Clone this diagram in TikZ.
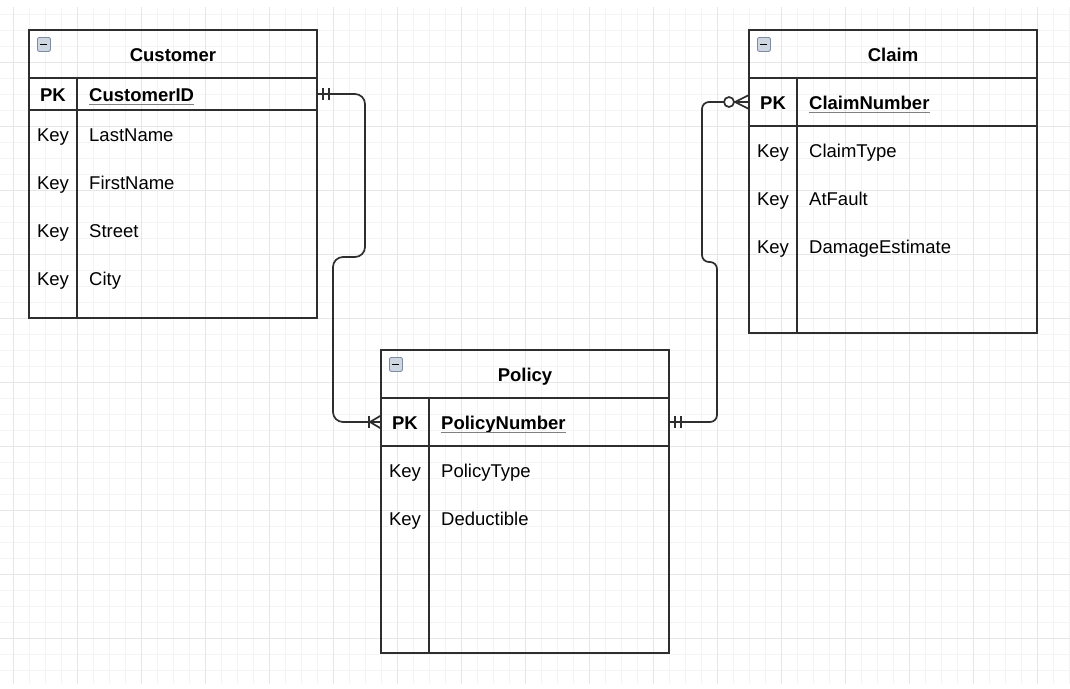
\documentclass[tikz,border=0pt]{standalone}
\usepackage{fontspec}
\setmainfont{Liberation Sans}
\usepackage{xcolor}

\definecolor{gridMinor}{HTML}{F4F4F4}
\definecolor{gridMajor}{HTML}{E6E6E6}
\definecolor{lineDark}{HTML}{2E2E2E}
\definecolor{iconFill}{HTML}{CDD6E1}
\definecolor{iconEdge}{HTML}{7D8CA0}

\begin{document}
\fontsize{18.5}{22}\selectfont
\begin{tikzpicture}[x=1pt,y=-1pt,
  tabhead/.style={draw=lineDark, line width=1.8pt, minimum width=288pt, minimum height=48pt, inner sep=0pt, outer sep=0pt, text height=15pt, text depth=0pt, font=\bfseries, anchor=north west},
  tabrow/.style={draw=lineDark, line width=1.8pt, minimum width=288pt, inner sep=0pt, outer sep=0pt, anchor=north west},
  keytxt/.style={inner sep=0pt, text height=15pt, text depth=0pt},
  fieldtxt/.style={anchor=west, inner sep=0pt, text height=15pt, text depth=0pt},
  minbox/.style={draw=iconEdge, fill=iconFill, line width=0.9pt, rounded corners=2pt, minimum width=13pt, minimum height=14pt, inner sep=0pt, anchor=north west},
  relline/.style={draw=lineDark, line width=1.7pt},
  uline/.style={draw=gray, line width=1.3pt}]

\useasboundingbox (0,0) rectangle (1070,688);
\fill[white] (0,0) rectangle (1070,688);

%Raster
\foreach \gx in {13,29,...,1069} \draw[gridMinor, line width=1pt] (\gx,7) -- (\gx,684);
\foreach \gy in {14,30,...,670} \draw[gridMinor, line width=1pt] (0,\gy) -- (1070,\gy);
\foreach \gx in {13,77,...,1037} \draw[gridMajor, line width=1pt] (\gx,7) -- (\gx,684);
\foreach \gy in {62,126,...,638} \draw[gridMajor, line width=1pt] (0,\gy) -- (1070,\gy);

%Customer
\node[tabhead] (cust) at (29,30) {Customer};
\node[tabrow, minimum height=32pt] (custPK) at (cust.south west) {};
\node[tabrow, minimum height=208pt] (custBody) at (custPK.south west) {};
\draw[relline, line width=1.8pt] ([xshift=48pt]custPK.north west) -- ([xshift=48pt]custBody.south west);
\node[minbox] (custMin) at ([xshift=8pt,yshift=-7pt]cust.north west) {\rule{7pt}{1.8pt}};
\node[keytxt, font=\bfseries] (custPKkey) at ([xshift=24pt]custPK.west) {PK};
\node[fieldtxt, font=\bfseries] (custPKname) at ([xshift=60pt]custPK.west) {CustomerID};
\draw[uline] ([yshift=-2.5pt]custPKname.south west) -- ([yshift=-2.5pt]custPKname.south east);
\foreach \fname [count=\i] in {LastName,FirstName,Street,City}{
  \node[keytxt] (custKey\i) at ([xshift=24pt,yshift={-48pt*\i+24pt}]custBody.north west) {Key};
  \node[fieldtxt] (custField\i) at ([xshift=60pt,yshift={-48pt*\i+24pt}]custBody.north west) {\fname};
}

%Claim
\node[tabhead] (claim) at (749,30) {Claim};
\node[tabrow, minimum height=48pt] (claimPK) at (claim.south west) {};
\node[tabrow, minimum height=207pt] (claimBody) at (claimPK.south west) {};
\draw[relline, line width=1.8pt] ([xshift=48pt]claimPK.north west) -- ([xshift=48pt]claimBody.south west);
\node[minbox] (claimMin) at ([xshift=8pt,yshift=-7pt]claim.north west) {\rule{7pt}{1.8pt}};
\node[keytxt, font=\bfseries] (claimPKkey) at ([xshift=24pt]claimPK.west) {PK};
\node[fieldtxt, font=\bfseries] (claimPKname) at ([xshift=60pt]claimPK.west) {ClaimNumber};
\draw[uline] ([yshift=-2.5pt]claimPKname.south west) -- ([yshift=-2.5pt]claimPKname.south east);
\foreach \fname [count=\i] in {ClaimType,AtFault,DamageEstimate}{
  \node[keytxt] (claimKey\i) at ([xshift=24pt,yshift={-48pt*\i+24pt}]claimBody.north west) {Key};
  \node[fieldtxt] (claimField\i) at ([xshift=60pt,yshift={-48pt*\i+24pt}]claimBody.north west) {\fname};
}

%Policy
\node[tabhead] (pol) at (381,350) {Policy};
\node[tabrow, minimum height=48pt] (polPK) at (pol.south west) {};
\node[tabrow, minimum height=207pt] (polBody) at (polPK.south west) {};
\draw[relline, line width=1.8pt] ([xshift=48pt]polPK.north west) -- ([xshift=48pt]polBody.south west);
\node[minbox] (polMin) at ([xshift=8pt,yshift=-7pt]pol.north west) {\rule{7pt}{1.8pt}};
\node[keytxt, font=\bfseries] (polPKkey) at ([xshift=24pt]polPK.west) {PK};
\node[fieldtxt, font=\bfseries] (polPKname) at ([xshift=60pt]polPK.west) {PolicyNumber};
\draw[uline] ([yshift=-2.5pt]polPKname.south west) -- ([yshift=-2.5pt]polPKname.south east);
\foreach \fname [count=\i] in {PolicyType,Deductible}{
  \node[keytxt] (polKey\i) at ([xshift=24pt,yshift={-48pt*\i+24pt}]polBody.north west) {Key};
  \node[fieldtxt] (polField\i) at ([xshift=60pt,yshift={-48pt*\i+24pt}]polBody.north west) {\fname};
}

%Beziehungen
\draw[relline, rounded corners=10pt] (custPK.east) -- ++(48,0) -- ++(0,163) -- ++(-32,0) |- (polPK.west);
\draw[relline, rounded corners=7pt] (polPK.east) -- ++(48,0) -- ++(0,-160) -- ++(-15,0) |- (claimPK.west);

%Kardinalitaeten
\draw[relline] ([xshift=6pt,yshift=6pt]custPK.east) -- ([xshift=6pt,yshift=-6pt]custPK.east);
\draw[relline] ([xshift=12pt,yshift=6pt]custPK.east) -- ([xshift=12pt,yshift=-6pt]custPK.east);
\draw[relline] ([xshift=6pt,yshift=6pt]polPK.east) -- ([xshift=6pt,yshift=-6pt]polPK.east);
\draw[relline] ([xshift=12pt,yshift=6pt]polPK.east) -- ([xshift=12pt,yshift=-6pt]polPK.east);
\draw[relline] ([xshift=-12pt,yshift=6pt]polPK.west) -- ([xshift=-12pt,yshift=-6pt]polPK.west);
\draw[relline] ([yshift=6.5pt]polPK.west) -- ([xshift=-11pt]polPK.west) -- ([yshift=-6.5pt]polPK.west);
\draw[relline] ([yshift=7pt]claimPK.west) -- ([xshift=-14pt]claimPK.west) -- ([yshift=-7pt]claimPK.west);
\draw[relline, fill=white] ([xshift=-20pt]claimPK.west) circle (5pt);

\end{tikzpicture}
\end{document}
